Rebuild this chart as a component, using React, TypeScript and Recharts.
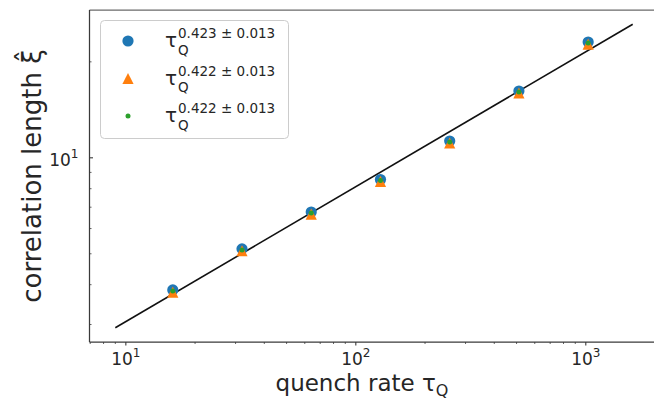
import { ComposedChart, Scatter, Line, XAxis, YAxis, ReferenceLine } from 'recharts';

// quench rates and measured correlation lengths for the three estimators
const quenchRates = [16, 32, 64, 128, 256, 512, 1024];
const xiCircle = [3.85, 5.18, 6.76, 8.55, 11.29, 16.2, 23.07];
const xiTriangle = [3.79, 5.11, 6.66, 8.43, 11.13, 15.97, 22.74];
const xiDot = [3.82, 5.14, 6.71, 8.49, 11.21, 16.09, 22.91];

// power-law fit drawn as a straight line in log-log
const fitX = [9, 1600];
const fitY = [2.93, 26.23];

const exponents = ['0.423', '0.422', '0.422'];
const errors = ['0.013', '0.013', '0.013'];

const xMajor = [10, 100, 1000];
const xMinor = [7, 8, 9, 20, 30, 40, 50, 60, 70, 80, 90, 200, 300, 400, 500, 600, 700, 800, 900, 2000];
const yMajor = [10];
const yMinor = [3, 4, 5, 6, 7, 8, 9, 20];

const xDomain = [6.95, 2073];
const yDomain = [2.644, 29.08];

const BLUE = '#1f77b4';
const ORANGE = '#ff7f0e';
const GREEN = '#2ca02c';
const TEXT = '#262626';
const SPINE = '#3a3a3a';
const FONT = 'DejaVu Sans, sans-serif';

const toPoints = (ys: number[]) => quenchRates.map((x, i) => ({ x, y: ys[i] }));
const circleData = toPoints(xiCircle);
const triangleData = toPoints(xiTriangle);
const dotData = toPoints(xiDot);
const fitData = fitX.map((x, i) => ({ x, y: fitY[i] }));

const Circle = ({ cx, cy }: any) => <circle cx={cx} cy={cy} r={5.6} fill={BLUE} />;
const Triangle = ({ cx, cy }: any) => {
  const r = 5.6;
  return <path d={`M${cx},${cy - r}L${cx - r},${cy + r}L${cx + r},${cy + r}Z`} fill={ORANGE} />;
};
const Dot = ({ cx, cy }: any) => <circle cx={cx} cy={cy} r={2.5} fill={GREEN} />;

const exponentOf = (v: number) => Math.round(Math.log10(v));

const XTick = ({ x, y, payload }: any) => {
  const major = xMajor.includes(payload.value);
  return (
    <g>
      <line x1={x} x2={x} y1={y} y2={y + (major ? 3.5 : 2)} stroke={SPINE} strokeWidth={major ? 1.1 : 0.8} />
      {major && (
        <text x={x} y={y + 22.5} textAnchor="middle" fill={TEXT} fontFamily={FONT} fontSize={17}>
          10
          <tspan dy={-7.5} fontSize={12}>{exponentOf(payload.value)}</tspan>
        </text>
      )}
    </g>
  );
};

const YTick = ({ x, y, payload }: any) => {
  const major = yMajor.includes(payload.value);
  return (
    <g>
      <line x1={x} x2={x + (major ? 3.5 : 2)} y1={y} y2={y} stroke={SPINE} strokeWidth={major ? 1.1 : 0.8} />
      {major && (
        <text x={x - 11} y={y + 8} textAnchor="end" fill={TEXT} fontFamily={FONT} fontSize={17}>
          10
          <tspan dy={-7.5} fontSize={12}>{exponentOf(payload.value)}</tspan>
        </text>
      )}
    </g>
  );
};

const XTitle = () => (
  <text x={362} y={391} textAnchor="middle" fill={TEXT} fontFamily={FONT} fontSize={23}>
    quench rate τ
    <tspan dy={5} fontSize={16}>Q</tspan>
  </text>
);

const YTitle = () => (
  <text x={41} y={176} transform="rotate(-90 41 176)" textAnchor="middle" fill={TEXT} fontFamily={FONT} fontSize={26}>
    correlation length ξ̂
  </text>
);

const markers = [
  (cx: number, cy: number) => <Circle cx={cx} cy={cy} />,
  (cx: number, cy: number) => <Triangle cx={cx} cy={cy} />,
  (cx: number, cy: number) => <Dot cx={cx} cy={cy} />,
];

const LegendBox = () => (
  <svg width={190} height={120} style={{ position: 'absolute', left: 100, top: 20 }}>
    <rect x={0.5} y={0.5} width={188} height={118} rx={4} fill="rgba(255,255,255,0.8)" stroke="#cccccc" />
    {exponents.map((e, i) => {
      const cy = 21 + 37.5 * i;
      return (
        <g key={i}>
          {markers[i](28, cy)}
          <text x={65} y={cy + 6} fill={TEXT} fontFamily={FONT} fontSize={20}>
            τ
            <tspan x={78} y={cy + 13.5} fontSize={13.5}>Q</tspan>
            <tspan x={78} y={cy - 3} fontSize={13.5}>{`${e} ± ${errors[i]}`}</tspan>
          </text>
        </g>
      );
    })}
  </svg>
);

export default function App() {
  return (
    <div style={{ position: 'absolute', left: 0, top: 0, width: 654, height: 401, overflow: 'hidden', background: '#fff' }}>
      <ComposedChart width={680} height={401} margin={{ top: 10, right: 21.4, bottom: 0, left: 0 }}>
        <XAxis
          dataKey="x"
          type="number"
          scale="log"
          domain={xDomain}
          allowDataOverflow
          ticks={[...xMajor, ...xMinor]}
          interval={0}
          tick={<XTick />}
          tickLine={false}
          tickSize={0}
          tickMargin={0}
          height={59}
          axisLine={{ stroke: SPINE, strokeWidth: 1.25 }}
          label={{ content: () => <XTitle /> }}
        />
        <YAxis
          dataKey="y"
          type="number"
          scale="log"
          domain={yDomain}
          allowDataOverflow
          ticks={[...yMajor, ...yMinor]}
          interval={0}
          tick={<YTick />}
          tickLine={false}
          tickSize={0}
          tickMargin={0}
          width={89.5}
          axisLine={{ stroke: SPINE, strokeWidth: 1.25 }}
          label={{ content: () => <YTitle /> }}
        />
        <ReferenceLine y={yDomain[1]} stroke="#6a6a6a" strokeWidth={1.25} ifOverflow="extendDomain" />
        <Scatter data={circleData} shape={<Circle />} isAnimationActive={false} />
        <Scatter data={triangleData} shape={<Triangle />} isAnimationActive={false} />
        <Scatter data={dotData} shape={<Dot />} isAnimationActive={false} />
        <Line data={fitData} dataKey="y" stroke="#111" strokeWidth={1.6} dot={false} activeDot={false} isAnimationActive={false} />
      </ComposedChart>
      <LegendBox />
    </div>
  );
}
